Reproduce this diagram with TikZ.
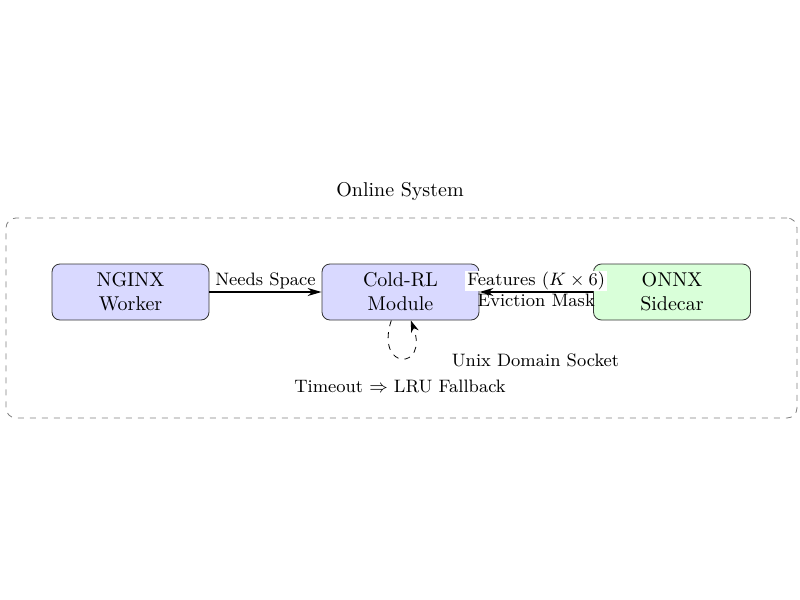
\documentclass[tikz,border=0pt]{standalone}
\usetikzlibrary{arrows.meta}
\begin{document}
\begin{tikzpicture}[x=0.5pt,y=-0.5pt,
  box/.style={draw=black!80, rounded corners=4pt, minimum width=78.5pt, minimum height=28pt, align=center, inner sep=2pt},
  bluebox/.style={box, fill=blue!15},
  greenbox/.style={box, fill=green!15},
  syst/.style={draw=gray, dashed, rounded corners=5pt, minimum width=395.5pt, minimum height=100pt},
  arr/.style={thick, -{Stealth[length=7pt,width=4pt]}},
  looparr/.style={dashed, -{Stealth[length=6pt,width=4pt]}},
  lab/.style={font=\small, anchor=base}
]
\useasboundingbox (0,0) rectangle (800,600);
\node[syst] (sys) at (401.5,318) {};
\node[anchor=base] (title) at (400,196) {Online System};
\node[bluebox] (nginx) at (130.5,292) {NGINX\\Worker};
\node[bluebox] (cold) at (400.5,292) {Cold-RL\\Module};
\node[greenbox] (onnx) at (672,292) {ONNX\\Sidecar};
\draw[arr] (nginx) -- node[lab, yshift=3.5pt] (needs) {Needs Space} (cold);
\path (onnx) -- node[lab, yshift=3.5pt, fill=white, inner xsep=1pt, inner ysep=0.5pt] (feat) {Features $(K \times 6)$} (cold);
\draw[arr] (onnx) -- node[lab, yshift=-7pt] (evict) {Eviction Mask} (cold);
\draw[looparr] (cold) to[loop, out=-108, in=-70, looseness=7] (cold);
\node[lab] (timeout) at (400,392.5) {Timeout $\Rightarrow$ LRU Fallback};
\node[lab] (uds) at (535.5,366) {Unix Domain Socket};
\end{tikzpicture}
\end{document}
